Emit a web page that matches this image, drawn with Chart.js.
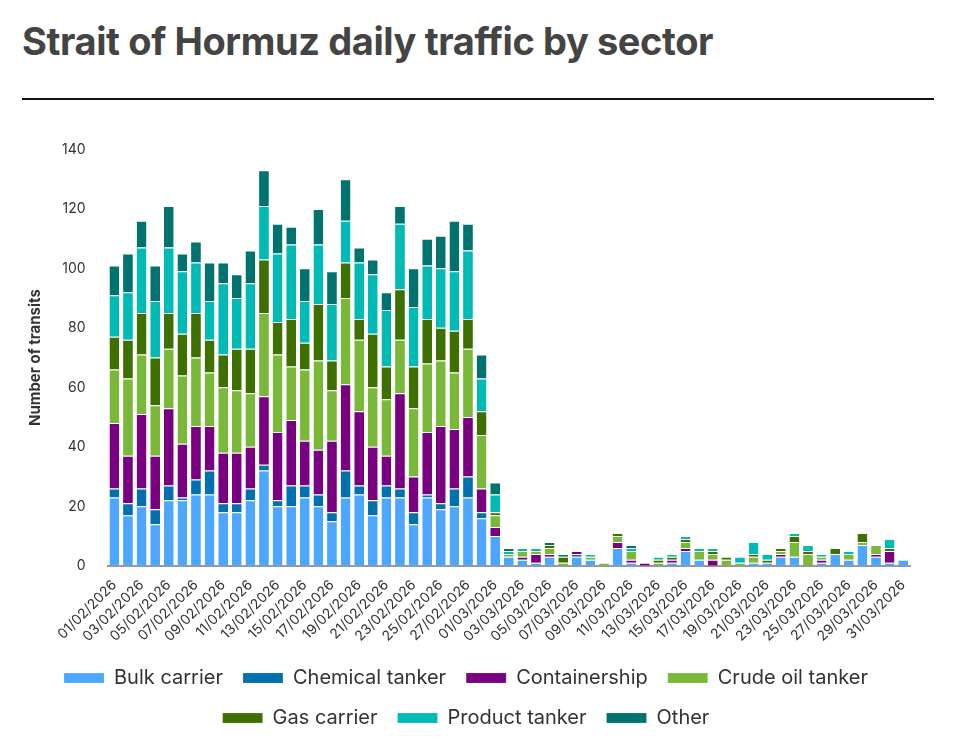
<!DOCTYPE html>
<html><head><meta charset="utf-8">
<script src="https://cdn.jsdelivr.net/npm/chart.js@4.4.1/dist/chart.umd.min.js"></script>
<style>
body{margin:0;background:#fff;font-family:"Inter","Liberation Sans",sans-serif;}
h1{margin:0;position:absolute;left:22px;top:18px;font-size:38px;font-weight:700;color:#444;letter-spacing:-0.4px;}
#rule{position:absolute;left:22px;top:98px;width:912px;height:2px;background:#111;}
#wrap{position:absolute;left:22px;top:127px;width:918px;height:611px;}
</style></head><body>
<h1>Strait of Hormuz daily traffic by sector</h1>
<div id="rule"></div>
<div id="wrap"><canvas id="c"></canvas></div>
<script>
const days=[];
for(let d=1;d<=28;d++)days.push(String(d).padStart(2,'0')+'/02/2026');
for(let d=1;d<=31;d++)days.push(String(d).padStart(2,'0')+'/03/2026');
const bulk=[23,17,20,14,22,22,24,24,18,18,22,32,20,20,23,20,15,23,24,17,23,23,14,23,19,20,23,16,10,3,2,1,3,0,3,2,0,6,1,0,0,1,5,2,0,0,0,1,1,3,3,0,1,4,2,7,3,1,2];
const chem=[3,4,6,5,5,1,5,8,3,3,4,2,2,7,4,4,3,9,3,5,4,3,4,1,2,6,7,2,0,0,0,0,0,0,1,0,0,0,0,0,0,0,0,0,0,0,0,0,0,0,0,0,0,0,0,0,0,0,0];
const cont=[22,16,25,18,26,18,18,15,17,17,14,23,23,22,15,15,24,29,25,18,10,32,12,21,26,20,20,8,3,0,1,3,1,0,1,0,0,2,1,1,0,1,1,0,2,0,0,0,0,1,0,0,1,0,0,0,1,4,0];
const crude=[18,26,20,17,20,23,23,18,22,21,18,28,26,18,24,30,17,29,24,20,19,18,23,23,22,19,23,18,4,1,2,1,2,1,0,1,1,2,3,0,1,0,2,3,2,2,1,2,0,1,5,4,1,0,2,1,3,0,0];
const gas=[11,13,14,16,12,14,15,11,11,14,15,18,11,16,9,19,10,12,7,18,11,17,14,15,11,14,10,8,1,0,0,0,1,2,0,0,0,1,0,0,1,1,1,0,1,1,0,1,1,1,2,1,0,2,0,3,0,1,0];
const prod=[14,16,22,19,22,21,17,13,24,17,22,18,23,25,14,20,19,14,19,20,19,22,20,18,20,20,23,11,6,1,1,1,0,0,0,1,0,0,1,0,1,1,1,1,1,0,2,4,2,0,1,2,1,0,1,0,0,3,0];
const other=[10,13,9,12,14,6,7,13,7,8,11,12,10,6,11,12,11,14,5,5,6,6,13,9,11,17,9,8,4,1,0,0,1,1,0,0,0,0,1,0,0,0,0,0,0,0,0,0,0,0,0,0,0,0,0,0,0,0,0];
const series=[['Bulk carrier',bulk,'#4da6ff'],['Chemical tanker',chem,'#0070b0'],['Containership',cont,'#7a0082'],['Crude oil tanker',crude,'#7ab83a'],['Gas carrier',gas,'#3e7000'],['Product tanker',prod,'#00bab5'],['Other',other,'#00736f']];
const yTicks=[0,20,40,60,80,100,120,140];
new Chart(document.getElementById('c'),{type:'bar',
data:{labels:days,datasets:series.map(s=>({label:s[0],data:s[1],backgroundColor:s[2],borderColor:'rgba(255,255,255,0.6)',borderWidth:{top:1},categoryPercentage:0.72,barPercentage:1}))},
options:{responsive:true,maintainAspectRatio:false,animation:false,
layout:{padding:{left:0,right:30,top:0}},
plugins:{legend:{position:'bottom',labels:{boxWidth:40,boxHeight:10,padding:20,font:{size:20,family:'Inter'},color:'#333'}},tooltip:{enabled:false}},
scales:{x:{stacked:true,grid:{display:false},border:{color:'#999',width:2},ticks:{autoSkip:false,maxRotation:45,minRotation:45,font:{size:14,family:'Inter'},color:'#333',callback:(v,i)=>i%2===0?days[i]:''}},
y:{stacked:true,min:0,max:140,grid:{display:false},border:{display:false},afterBuildTicks:ax=>{ax.ticks=yTicks.map(v=>({value:v}));},
ticks:{font:{size:14,family:'Inter'},color:'#333',padding:14},title:{display:true,text:'Number of transits',font:{size:15,weight:'bold',family:'Inter'},color:'#333'}}}}});
</script></body></html>
